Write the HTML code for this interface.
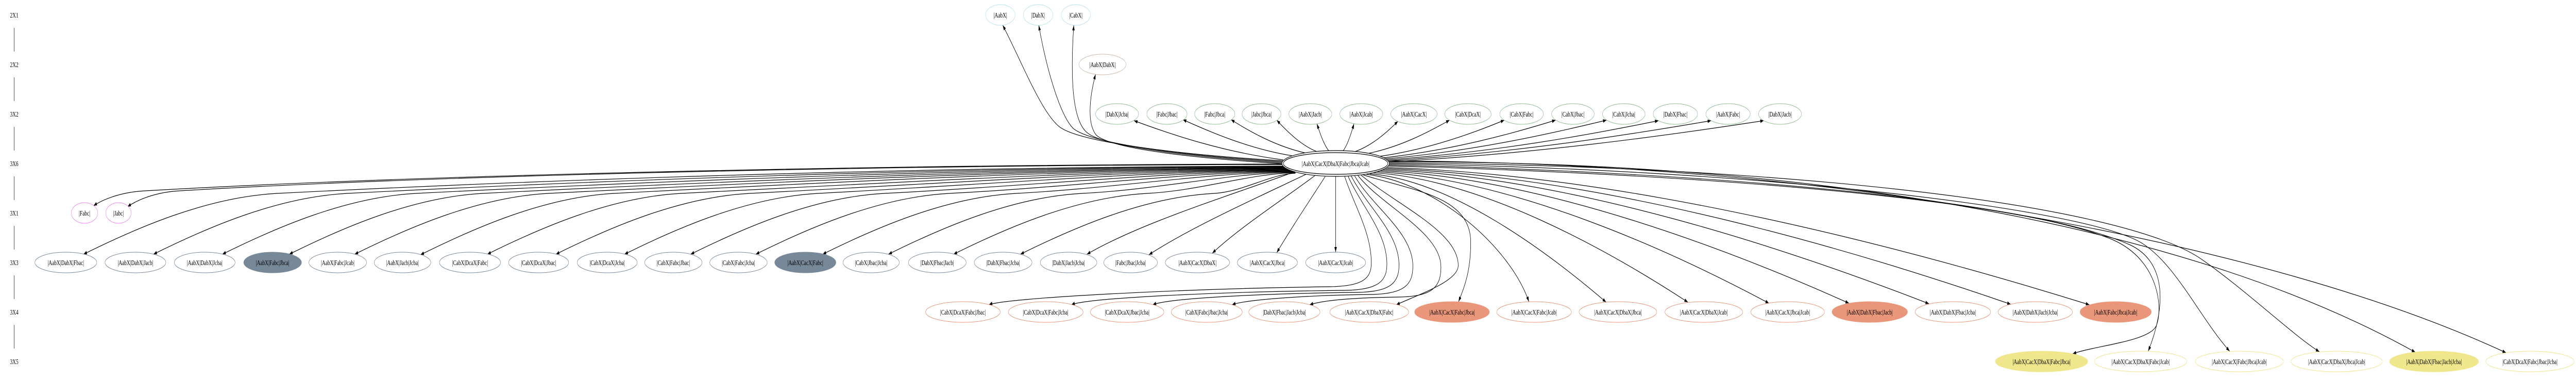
<!DOCTYPE html>
<html><head><meta charset="utf-8"><style>
html,body{margin:0;padding:0;background:#fff;width:100%;height:733px;overflow:hidden;}
svg{display:block;width:100%;height:733px;}
text{font-family:"Liberation Serif","Times New Roman",serif;font-size:14px;text-anchor:middle;fill:#000;}
.e path{fill:none;stroke:#000;stroke-width:1.2;marker-end:url(#ah);}
.l{stroke:#000;stroke-width:1;}
.b{fill:#fff;stroke:#b4e1e8;}
.t{fill:#fff;stroke:#cbb9a8;}
.g{fill:#fff;stroke:#8fbc8f;}
.v{fill:#fff;stroke:#ee82ee;}
.s{fill:#fff;stroke:#778899;}
.sf{fill:#778899;stroke:#778899;}
.r{fill:#fff;stroke:#e9967a;}
.rf{fill:#e9967a;stroke:#e9967a;}
.k{fill:#fff;stroke:#f0e68c;}
.kf{fill:#f0e68c;stroke:#f0e68c;}
.h{fill:#fff;stroke:#000;stroke-width:1.2;}
</style></head><body>
<svg width="100%" height="733" viewBox="0 0 7437 733" preserveAspectRatio="none" xmlns="http://www.w3.org/2000/svg">
<defs><marker id="ah" viewBox="0 0 10 7" refX="10" refY="3.5" markerWidth="10" markerHeight="7" markerUnits="userSpaceOnUse" orient="auto"><path d="M0,0L10,3.5L0,7z" fill="#000"/></marker></defs>
<rect width="7437" height="733" fill="#fff"/>

<!-- rank labels -->
<text x="41" y="34">2X1</text><text x="41" y="130">2X2</text><text x="41" y="226">3X2</text><text x="41" y="322">3X6</text>
<text x="41" y="418">3X1</text><text x="41" y="514">3X3</text><text x="41" y="610">3X4</text><text x="41" y="706">3X5</text>
<line class="l" x1="41" y1="54" x2="41" y2="100"/><line class="l" x1="41" y1="150" x2="41" y2="196"/>
<line class="l" x1="41" y1="246" x2="41" y2="292"/><line class="l" x1="41" y1="342" x2="41" y2="388"/>
<line class="l" x1="41" y1="438" x2="41" y2="484"/><line class="l" x1="41" y1="534" x2="41" y2="580"/>
<line class="l" x1="41" y1="630" x2="41" y2="676"/>

<g class="e">
<!-- to 2X1 / 2X2 -->
<path d="M3710,312 C3400,300 3110,275 3057,245 C3004,215 2950,120 2895,49"/>
<path d="M3712,314 C3420,302 3160,280 3100,250 C3060,225 3020,130 2999,49"/>
<path d="M3714,316 C3450,305 3190,285 3140,258 C3095,235 3090,150 3100,49"/>
<path d="M3716,318 C3470,308 3210,290 3165,262 C3138,240 3145,190 3163,144"/>
<!-- to 3X2 -->
<path d="M3705,310 C3533,295 3382,261 3274,234"/>
<path d="M3730,302 C3604,288 3494,256 3415,232"/>
<path d="M3771,297 C3684,284 3608,255 3554,232"/>
<path d="M3802,294 C3756,282 3715,254 3686,233"/>
<path d="M3837,293 C3823,282 3811,259 3802,240"/>
<path d="M3877,293 C3890,282 3901,259 3909,240"/>
<path d="M3912,294 C3962,282 4005,256 4036,235"/>
<path d="M3953,297 C4046,284 4127,255 4185,233"/>
<path d="M3985,303 C4128,289 4254,258 4343,233"/>
<path d="M3995,306 C4193,291 4367,259 4491,233"/>
<path d="M4000,308 C4255,293 4479,259 4638,233"/>
<path d="M4003,310 C4317,295 4592,261 4788,234"/>
<path d="M4005,312 C4379,296 4706,261 4940,234"/>
<path d="M4006,314 C4440,298 4821,262 5092,234"/>
<!-- to 3X1 -->
<path d="M3740,318 C2500,319 1200,340 420,370 C360,372 306,383 270,399"/>
<path d="M3740,319 C2500,320 1250,341 520,370 C460,372 404,384 368,401"/>
<!-- to 3X3 -->
<path d="M3740,322 C2858,323 1830,340 801,375 C601,382 400,440 241,493"/>
<path d="M3740,323 C2919,324 1961,342 1003,375 C803,382 602,440 443,493"/>
<path d="M3740,324 C2979,325 2090,345 1202,375 C1002,382 801,440 642,493"/>
<path d="M3740,325 C3037,326 2216,347 1395,375 C1195,382 994,440 835,493"/>
<path d="M3740,326 C3093,327 2339,349 1584,375 C1384,382 1183,440 1024,493"/>
<path d="M3740,327 C3150,328 2462,351 1774,375 C1574,382 1373,441 1214,494"/>
<path d="M3740,328 C3208,329 2588,354 1967,375 C1767,382 1566,440 1407,493"/>
<path d="M3740,329 C3268,330 2716,356 2165,375 C1965,382 1764,440 1605,493"/>
<path d="M3740,330 C3327,331 2845,358 2363,375 C2163,382 1962,440 1803,493"/>
<path d="M3740,331 C3384,332 2969,361 2554,375 C2354,382 2153,440 1994,493"/>
<path d="M3740,332 C3441,333 3091,363 2742,375 C2542,382 2341,440 2182,493"/>
<path d="M3740,333 C3499,334 3217,365 2935,375 C2735,382 2534,440 2375,493"/>
<path d="M3740,334 C3556,335 3340,368 3125,375 C2925,382 2724,440 2565,493"/>
<path d="M3740,335 C3612,336 3462,370 3313,375 C3113,382 2912,440 2753,493"/>
<path d="M3740,336 C3670,337 3588,372 3506,375 C3306,382 3105,440 2946,493"/>
<path d="M3750,330 C3550,380 3300,430 3138,493"/>
<path d="M3780,335 C3640,380 3440,440 3317,494"/>
<path d="M3805,336 C3720,380 3580,440 3500,491"/>
<path d="M3830,338 C3790,380 3730,440 3686,490"/>
<path d="M3856,335 L3856,489"/>
<!-- to 3X4 left -->
<path d="M3880,338 C3910,400 3959,450 3959,510 C3959,540 3935,555 3839,556 C3400,560 2900,578 2855,591"/>
<path d="M3890,339 C3930,400 4004,450 4004,512 C4004,545 3980,562 3884,563 C3500,566 3140,578 3093,591"/>
<path d="M3900,340 C3945,400 4039,450 4039,514 C4039,548 4015,566 3919,567 C3650,569 3375,578 3328,591"/>
<path d="M3910,340 C3960,400 4079,450 4079,516 C4079,552 4055,570 3959,571 C3800,572 3600,580 3557,591"/>
<path d="M3920,340 C3990,400 4160,450 4160,518 C4160,556 4136,575 4040,576 C3930,577 3825,581 3781,591"/>
<path d="M3930,340 C4040,400 4210,450 4210,515 C4210,545 4100,570 4031,591"/>
<!-- to 3X4 right -->
<path d="M3935,339 C4080,370 4246,380 4246,470 C4246,530 4225,560 4211,585"/>
<path d="M3945,338 C4150,355 4360,480 4414,585"/>
<path d="M3955,337 C4190,350 4465,487 4637,586"/>
<path d="M3965,335 C4280,348 4645,486 4873,586"/>
<path d="M3975,333 C4368,347 4823,486 5107,588"/>
<path d="M3985,331 C4455,345 4999,486 5338,588"/>
<path d="M3993,329 C4543,343 5174,486 5569,589"/>
<path d="M4000,327 C4630,341 5353,485 5805,590"/>
<path d="M4005,325 C4714,339 5525,485 6032,591"/>
<!-- to 3X5 -->
<path d="M4005,322 C4800,335 5800,380 6100,465 C6235,505 6245,600 6225,632 C6205,662 6050,670 5984,686"/>
<path d="M4006,320 C4900,333 5850,385 6150,475 C6260,510 6250,600 6202,681"/>
<path d="M4007,318 C5000,325 6000,400 6180,470 C6280,510 6350,615 6437,681"/>
<path d="M4007,316 C5100,320 6100,390 6350,500 C6480,560 6620,650 6696,682"/>
<path d="M4008,314 C5200,310 6300,430 6973,683"/>
<path d="M4008,312 C5300,315 6550,470 7235,684"/>
</g>

<!-- 2X1 -->
<ellipse class="b" cx="2888" cy="29" rx="42.5" ry="20"/><text x="2888" y="34">|AabX|</text>
<ellipse class="b" cx="2997" cy="29" rx="42.5" ry="20"/><text x="2997" y="34">|DabX|</text>
<ellipse class="b" cx="3106" cy="29" rx="42" ry="20"/><text x="3106" y="34">|CabX|</text>
<!-- 2X2 -->
<ellipse class="t" cx="3183" cy="125" rx="68" ry="20"/><text x="3183" y="130">|AabX|DabX|</text>
<!-- 3X2 -->
<ellipse class="g" cx="3225" cy="221" rx="62" ry="20"/><text x="3225" y="226">|DabX|Jcba|</text>
<ellipse class="g" cx="3369" cy="221" rx="58" ry="20"/><text x="3369" y="226">|Fabc|Jbac|</text>
<ellipse class="g" cx="3507" cy="221" rx="58" ry="20"/><text x="3507" y="226">|Fabc|Jbca|</text>
<ellipse class="g" cx="3642" cy="221" rx="56" ry="20"/><text x="3642" y="226">|Jabc|Jbca|</text>
<ellipse class="g" cx="3783" cy="221" rx="62" ry="20"/><text x="3783" y="226">|AabX|Jacb|</text>
<ellipse class="g" cx="3930" cy="221" rx="62" ry="20"/><text x="3930" y="226">|AabX|Jcab|</text>
<ellipse class="g" cx="4082" cy="221" rx="67" ry="20"/><text x="4082" y="226">|AabX|CacX|</text>
<ellipse class="g" cx="4238" cy="221" rx="67" ry="20"/><text x="4238" y="226">|CabX|DcaX|</text>
<ellipse class="g" cx="4393" cy="221" rx="63" ry="20"/><text x="4393" y="226">|CabX|Fabc|</text>
<ellipse class="g" cx="4541" cy="221" rx="61.5" ry="20"/><text x="4541" y="226">|CabX|Jbac|</text>
<ellipse class="g" cx="4688" cy="221" rx="61.5" ry="20"/><text x="4688" y="226">|CabX|Jcba|</text>
<ellipse class="g" cx="4837" cy="221" rx="64" ry="20"/><text x="4837" y="226">|DabX|Fbac|</text>
<ellipse class="g" cx="4989" cy="221" rx="64" ry="20"/><text x="4989" y="226">|AabX|Fabc|</text>
<ellipse class="g" cx="5139" cy="221" rx="62" ry="20"/><text x="5139" y="226">|DabX|Jacb|</text>
<!-- hub -->
<ellipse class="h" cx="3856" cy="317" rx="155" ry="25"/>
<ellipse class="h" cx="3856" cy="317" rx="151" ry="21"/>
<text x="3856" y="322">|AabX|CacX|DbaX|Fabc|Jbca|Jcab|</text>
<!-- 3X1 -->
<ellipse class="v" cx="244" cy="413" rx="38" ry="20"/><text x="244" y="418">|Fabc|</text>
<ellipse class="v" cx="342" cy="413" rx="36.5" ry="20"/><text x="342" y="418">|Jabc|</text>
<!-- 3X3 -->
<ellipse class="s" cx="190" cy="509" rx="89.4" ry="20"/><text x="190" y="514">|AabX|DabX|Fbac|</text>
<ellipse class="s" cx="391" cy="509" rx="87.8" ry="20"/><text x="391" y="514">|AabX|DabX|Jacb|</text>
<ellipse class="s" cx="591" cy="509" rx="87.8" ry="20"/><text x="591" y="514">|AabX|DabX|Jcba|</text>
<ellipse class="sf" cx="787" cy="509" rx="83.4" ry="20"/><text x="787" y="514">|AabX|Fabc|Jbca|</text>
<ellipse class="s" cx="975" cy="509" rx="83.4" ry="20"/><text x="975" y="514">|AabX|Fabc|Jcab|</text>
<ellipse class="s" cx="1162" cy="509" rx="81.7" ry="20"/><text x="1162" y="514">|AabX|Jacb|Jcba|</text>
<ellipse class="s" cx="1357" cy="509" rx="88.3" ry="20"/><text x="1357" y="514">|CabX|DcaX|Fabc|</text>
<ellipse class="s" cx="1555" cy="509" rx="86.7" ry="20"/><text x="1555" y="514">|CabX|DcaX|Jbac|</text>
<ellipse class="s" cx="1753" cy="509" rx="86.7" ry="20"/><text x="1753" y="514">|CabX|DcaX|Jcba|</text>
<ellipse class="s" cx="1944" cy="509" rx="82.9" ry="20"/><text x="1944" y="514">|CabX|Fabc|Jbac|</text>
<ellipse class="s" cx="2132" cy="509" rx="82.9" ry="20"/><text x="2132" y="514">|CabX|Fabc|Jcba|</text>
<ellipse class="sf" cx="2325" cy="509" rx="88.3" ry="20"/><text x="2325" y="514">|AabX|CacX|Fabc|</text>
<ellipse class="s" cx="2515" cy="509" rx="81.2" ry="20"/><text x="2515" y="514">|CabX|Jbac|Jcba|</text>
<ellipse class="s" cx="2706" cy="509" rx="83.4" ry="20"/><text x="2706" y="514">|DabX|Fbac|Jacb|</text>
<ellipse class="s" cx="2896" cy="509" rx="83.4" ry="20"/><text x="2896" y="514">|DabX|Fbac|Jcba|</text>
<ellipse class="s" cx="3085" cy="509" rx="81.7" ry="20"/><text x="3085" y="514">|DabX|Jacb|Jcba|</text>
<ellipse class="s" cx="3264" cy="509" rx="77.4" ry="20"/><text x="3264" y="514">|Fabc|Jbac|Jcba|</text>
<ellipse class="s" cx="3457" cy="509" rx="92.7" ry="20"/><text x="3457" y="514">|AabX|CacX|DbaX|</text>
<ellipse class="s" cx="3659" cy="509" rx="86.7" ry="20"/><text x="3659" y="514">|AabX|CacX|Jbca|</text>
<ellipse class="s" cx="3856" cy="509" rx="86.7" ry="20"/><text x="3856" y="514">|AabX|CacX|Jcab|</text>
<!-- 3X4 -->
<ellipse class="r" cx="2780" cy="605" rx="107.9" ry="20"/><text x="2780" y="610">|CabX|DcaX|Fabc|Jbac|</text>
<ellipse class="r" cx="3019" cy="605" rx="107.9" ry="20"/><text x="3019" y="610">|CabX|DcaX|Fabc|Jcba|</text>
<ellipse class="r" cx="3254" cy="605" rx="106.3" ry="20"/><text x="3254" y="610">|CabX|DcaX|Jbac|Jcba|</text>
<ellipse class="r" cx="3484" cy="605" rx="102.5" ry="20"/><text x="3484" y="610">|CabX|Fabc|Jbac|Jcba|</text>
<ellipse class="r" cx="3708" cy="605" rx="102.9" ry="20"/><text x="3708" y="610">|DabX|Fbac|Jacb|Jcba|</text>
<ellipse class="r" cx="3953" cy="605" rx="113.9" ry="20"/><text x="3953" y="610">|AabX|CacX|DbaX|Fabc|</text>
<ellipse class="rf" cx="4192" cy="605" rx="107.9" ry="20"/><text x="4192" y="610">|AabX|CacX|Fabc|Jbca|</text>
<ellipse class="r" cx="4429" cy="605" rx="107.9" ry="20"/><text x="4429" y="610">|AabX|CacX|Fabc|Jcab|</text>
<ellipse class="r" cx="4671" cy="605" rx="112.3" ry="20"/><text x="4671" y="610">|AabX|CacX|DbaX|Jbca|</text>
<ellipse class="r" cx="4919" cy="605" rx="112.3" ry="20"/><text x="4919" y="610">|AabX|CacX|DbaX|Jcab|</text>
<ellipse class="r" cx="5161" cy="605" rx="106.3" ry="20"/><text x="5161" y="610">|AabX|CacX|Jbca|Jcab|</text>
<ellipse class="rf" cx="5398" cy="605" rx="109" ry="20"/><text x="5398" y="610">|AabX|DabX|Fbac|Jacb|</text>
<ellipse class="r" cx="5638" cy="605" rx="109" ry="20"/><text x="5638" y="610">|AabX|DabX|Fbac|Jcba|</text>
<ellipse class="r" cx="5876" cy="605" rx="107.3" ry="20"/><text x="5876" y="610">|AabX|DabX|Jacb|Jcba|</text>
<ellipse class="rf" cx="6108" cy="605" rx="102.9" ry="20"/><text x="6108" y="610">|AabX|Fabc|Jbca|Jcab|</text>
<!-- 3X5 -->
<ellipse class="kf" cx="5894" cy="701" rx="133.5" ry="20"/><text x="5894" y="706">|AabX|CacX|DbaX|Fabc|Jbca|</text>
<ellipse class="k" cx="6180" cy="701" rx="133.5" ry="20"/><text x="6180" y="706">|AabX|CacX|DbaX|Fabc|Jcab|</text>
<ellipse class="k" cx="6465" cy="701" rx="127.5" ry="20"/><text x="6465" y="706">|AabX|CacX|Fabc|Jbca|Jcab|</text>
<ellipse class="k" cx="6746" cy="701" rx="132" ry="20"/><text x="6746" y="706">|AabX|CacX|DbaX|Jbca|Jcab|</text>
<ellipse class="kf" cx="7027" cy="701" rx="128.5" ry="20"/><text x="7027" y="706">|AabX|DabX|Fbac|Jacb|Jcba|</text>
<ellipse class="k" cx="7304" cy="701" rx="127.5" ry="20"/><text x="7304" y="706">|CabX|DcaX|Fabc|Jbac|Jcba|</text>
</svg>
</body></html>
